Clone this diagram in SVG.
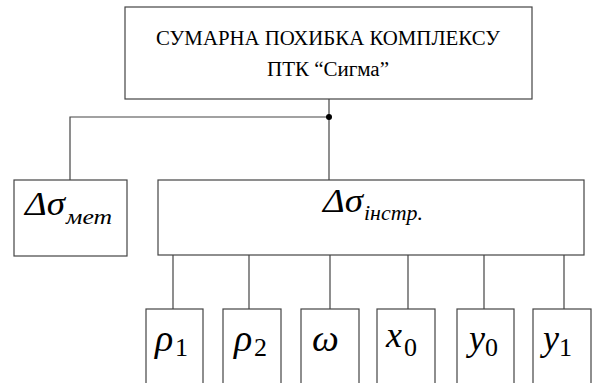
<svg xmlns="http://www.w3.org/2000/svg" width="592" height="383" viewBox="0 0 592 383" font-family="Liberation Serif, Times New Roman, serif">
<style>
.box{fill:#fff;stroke:#444;stroke-width:1.2}
.ln{stroke:#444;stroke-width:1.2;fill:none}
text{font-family:'Liberation Serif','Times New Roman',serif;fill:#000}
.m{font-style:italic}
</style>
<rect width="592" height="383" fill="#fff"/>
<g id="connectors">
<line class="ln" x1="329" y1="99" x2="329" y2="180"/>
<polyline class="ln" points="329,117 70,117 70,180"/>
<circle cx="329" cy="117" r="3" fill="#000"/>
<line class="ln" x1="173" y1="255" x2="173" y2="309"/>
<line class="ln" x1="249" y1="255" x2="249" y2="309"/>
<line class="ln" x1="330" y1="255" x2="330" y2="309"/>
<line class="ln" x1="408" y1="255" x2="408" y2="309"/>
<line class="ln" x1="484" y1="255" x2="484" y2="309"/>
<line class="ln" x1="564" y1="255" x2="564" y2="309"/>
</g>
<g id="top">
<rect class="box" x="125" y="7" width="407" height="92"/>
<text x="156" y="45" font-size="21" textLength="344" lengthAdjust="spacingAndGlyphs">СУМАРНА ПОХИБКА КОМПЛЕКСУ</text>
<text x="267" y="76" font-size="20" textLength="122" lengthAdjust="spacingAndGlyphs">ПТК “Сигма”</text>
</g>
<g id="met">
<rect class="box" x="14" y="180" width="113" height="76"/>
<text class="m" x="25" y="215" font-size="33" textLength="40" lengthAdjust="spacingAndGlyphs">Δσ</text>
<text class="m" x="66" y="224" font-size="22" textLength="46" lengthAdjust="spacingAndGlyphs">мет</text>
</g>
<g id="instr">
<rect class="box" x="158" y="180" width="426" height="75"/>
<text class="m" x="323" y="212" font-size="33" textLength="40" lengthAdjust="spacingAndGlyphs">Δσ</text>
<text class="m" x="364" y="220" font-size="22" textLength="59" lengthAdjust="spacingAndGlyphs">інстр.</text>
</g>
<g id="rho1">
<rect class="box" x="146" y="309" width="57" height="80"/>
<text class="m" x="155" y="351" font-size="38">ρ</text>
<text x="175" y="356" font-size="26">1</text>
</g>
<g id="rho2">
<rect class="box" x="223" y="309" width="58" height="80"/>
<text class="m" x="234" y="351" font-size="38">ρ</text>
<text x="254" y="356" font-size="26">2</text>
</g>
<g id="omega">
<rect class="box" x="301" y="309" width="58" height="80"/>
<text class="m" x="312" y="351" font-size="38">ω</text>
</g>
<g id="x0">
<rect class="box" x="377" y="309" width="58" height="80"/>
<text class="m" x="386" y="347" font-size="36">x</text>
<text x="404" y="356" font-size="26">0</text>
</g>
<g id="y0">
<rect class="box" x="457" y="309" width="57" height="80"/>
<text class="m" x="469" y="350" font-size="36">y</text>
<text x="485" y="356" font-size="26">0</text>
</g>
<g id="y1">
<rect class="box" x="533" y="309" width="58" height="80"/>
<text class="m" x="543" y="350" font-size="36">y</text>
<text x="559" y="356" font-size="26">1</text>
</g>
</svg>
